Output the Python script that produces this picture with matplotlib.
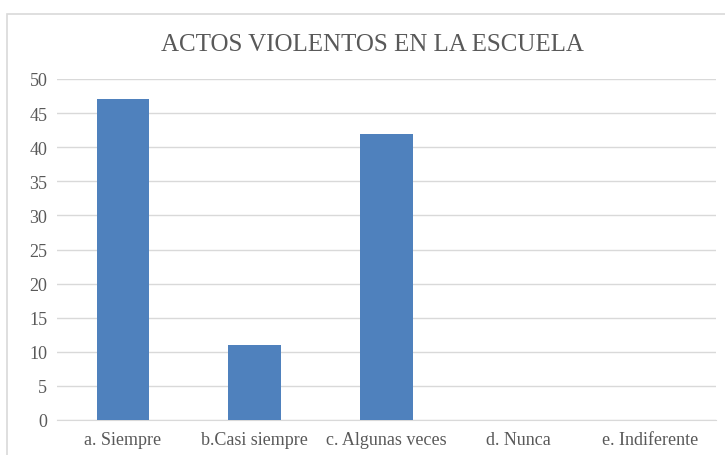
import matplotlib.pyplot as plt
from matplotlib.patches import Rectangle

categorias = ["a. Siempre", "b.Casi siempre", "c. Algunas veces", "d. Nunca", "e. Indiferente"]
valores = [47, 11, 42, 0, 0]
yticks = [0, 5, 10, 15, 20, 25, 30, 35, 40, 45, 50]

W, H = 725, 456
fig = plt.figure(figsize=(W / 100, H / 100), dpi=100)
plt.rcParams['font.family'] = ['Liberation Serif', 'DejaVu Serif']

# chart area border (cut off at right and bottom)
fig.patches.append(Rectangle((7 / W, -0.1), 1.2, 1.1 - 15 / H,
                             transform=fig.transFigure, fill=False,
                             edgecolor='#d9d9d9', linewidth=1.2))

ax = fig.add_axes([57 / W, 35 / H, 659 / W, 341 / H])
x = range(len(categorias))
ax.bar(x, valores, width=0.4, color='#4f81bd', zorder=3)

ax.set_xlim(-0.5, len(categorias) - 0.5)
ax.set_ylim(0, 50)
ax.set_yticks(yticks)
ax.set_xticks(list(x))
ax.set_xticklabels(categorias)
ax.grid(axis='y', color='#d9d9d9', linewidth=1, zorder=0)
for s in ['top', 'right', 'left']:
    ax.spines[s].set_visible(False)
ax.spines['bottom'].set_color('#d9d9d9')
ax.tick_params(length=0, labelsize=13, colors='#595959', pad=8)
ax.tick_params(axis='y', pad=7)

fig.text(372 / W, 1 - 45 / H, "ACTOS VIOLENTOS EN LA ESCUELA", ha='center', va='center',
         fontsize=18, color='#595959')

fig.savefig("out.png", dpi=100)
